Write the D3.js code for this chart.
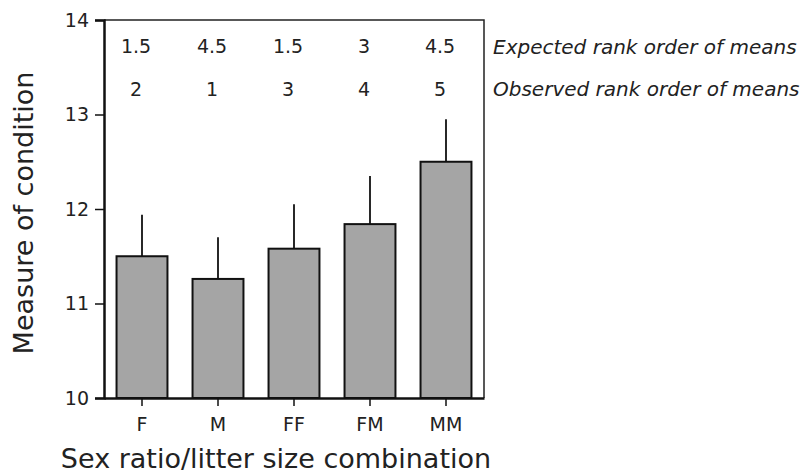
<!DOCTYPE html>
<html lang="en">
<head>
    <meta charset="UTF-8">
    <title>Measure of condition</title>
    <script src="https://cdn.jsdelivr.net/npm/d3@7"></script>
    <style>
        body { margin: 0; background: #fff; }
        text { font-family: "DejaVu Sans", Verdana, sans-serif; fill: #222; }
    </style>
</head>
<body>
</body>
<script>
    const categories = ["F", "M", "FF", "FM", "MM"];
    const means = [11.50, 11.26, 11.58, 11.84, 12.50];
    const errTops = [11.94, 11.70, 12.05, 12.35, 12.95];
    const expectedRank = ["1.5", "4.5", "1.5", "3", "4.5"];
    const observedRank = ["2", "1", "3", "4", "5"];
    const yTicks = [10, 11, 12, 13, 14];

    const width = 804;
    const height = 476;
    const margin = { left: 104, right: 320, top: 20, bottom: 78 };

    const svg = d3.select("body")
    .append("svg")
        .attr("width", width)
        .attr("height", height);

    const x = d3.scaleBand()
        .domain(categories)
        .range([margin.left, width - margin.right])
        .paddingInner(0.33)
        .paddingOuter(0.165);

    const y = d3.scaleLinear()
        .domain([10, 14])
        .range([height - margin.bottom, margin.top]);

    // error bars (upper only)
    svg.append("g")
        .selectAll("line")
        .data(categories)
        .enter()
        .append("line")
        .attr("x1", d => x(d) + x.bandwidth() / 2)
        .attr("x2", d => x(d) + x.bandwidth() / 2)
        .attr("y1", (d, i) => y(means[i]))
        .attr("y2", (d, i) => y(errTops[i]))
        .attr("stroke", "#111")
        .attr("stroke-width", 1.8);

    // bars
    svg.append("g")
        .selectAll("rect")
        .data(categories)
        .enter()
        .append("rect")
        .attr("x", d => x(d))
        .attr("y", (d, i) => y(means[i]))
        .attr("width", x.bandwidth())
        .attr("height", (d, i) => y(10) - y(means[i]))
        .attr("fill", "#a5a5a5")
        .attr("stroke", "#111")
        .attr("stroke-width", 2);

    // frame top + right
    svg.append("path")
        .attr("d", `M${margin.left},${y(14)}H${width - margin.right}V${y(10)}`)
        .attr("fill", "none")
        .attr("stroke", "#222")
        .attr("stroke-width", 1.5);

    // y axis
    const yAxis = svg.append("g")
        .attr("transform", `translate(${margin.left},0)`)
        .call(d3.axisLeft(y).tickValues(yTicks).tickSize(9).tickPadding(6).tickFormat(d3.format("d")));
    yAxis.select(".domain").attr("stroke", "#111").attr("stroke-width", 2.5);
    yAxis.selectAll(".tick line").attr("stroke", "#111").attr("stroke-width", 1.5);
    yAxis.selectAll("text").style("font-size", "19px").attr("fill", "#222");

    // x axis
    const xAxis = svg.append("g")
        .attr("transform", `translate(0,${y(10)})`)
        .call(d3.axisBottom(x).tickSize(8).tickPadding(12).tickSizeOuter(0));
    xAxis.select(".domain").attr("stroke", "#111").attr("stroke-width", 2.5);
    xAxis.selectAll(".tick line").attr("stroke", "#111").attr("stroke-width", 1.5);
    xAxis.selectAll("text").style("font-size", "19px").attr("fill", "#222");

    // rank rows
    const rows = [
        { values: expectedRank, y: 46.5, label: "Expected rank order of means" },
        { values: observedRank, y: 89, label: "Observed rank order of means" }
    ];
    rows.forEach(r => {
        svg.append("g")
            .selectAll("text")
            .data(categories)
            .enter()
            .append("text")
            .attr("x", d => x(d) + x.bandwidth() / 2 - 6)
            .attr("y", r.y)
            .attr("dy", "0.35em")
            .attr("text-anchor", "middle")
            .style("font-size", "19px")
            .text((d, i) => r.values[i]);

        svg.append("text")
            .attr("x", width - margin.right + 9)
            .attr("y", r.y)
            .attr("dy", "0.35em")
            .style("font-size", "20px")
            .style("font-style", "italic")
            .attr("fill", "#333")
            .text(r.label);
    });

    // axis titles
    svg.append("text")
        .attr("x", 276)
        .attr("y", 468)
        .attr("text-anchor", "middle")
        .style("font-size", "27px")
        .text("Sex ratio/litter size combination");

    svg.append("text")
        .attr("transform", `translate(33,213) rotate(-90)`)
        .attr("text-anchor", "middle")
        .style("font-size", "27px")
        .text("Measure of condition");
</script>
</html>
